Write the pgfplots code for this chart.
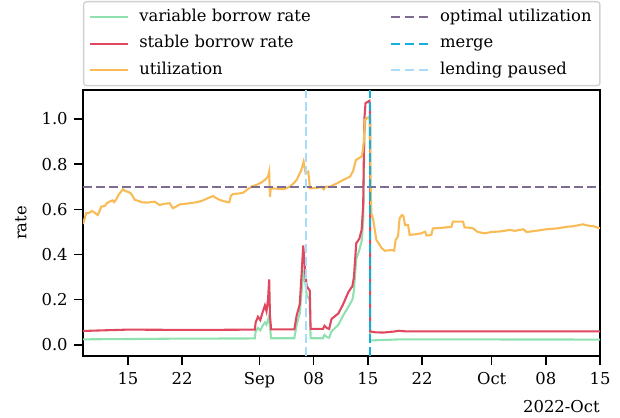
\documentclass[border=0pt]{standalone}
\usepackage{fontspec}
\setmainfont{DejaVu Serif}
\usepackage{pgfplots}
\pgfplotsset{compat=1.18}
\definecolor{cvar}{HTML}{8FE2B0}
\definecolor{cstab}{HTML}{E0485F}
\definecolor{cutil}{HTML}{F8BB55}
\definecolor{copt}{HTML}{7D6B92}
\definecolor{cmerge}{HTML}{15B0DA}
\definecolor{cpause}{HTML}{A8DCF8}

\pgfplotstableread{
d v
8.2 0.535
8.4 0.56
8.6 0.583
9.0 0.585
9.3 0.592
9.5 0.59
10.1 0.575
10.3 0.59
10.55 0.612
11.0 0.615
11.3 0.628
11.6 0.634
12.0 0.640
12.2 0.632
12.5 0.645
12.8 0.665
13.35 0.689
13.7 0.680
14.0 0.678
14.4 0.670
14.9 0.642
15.9 0.631
16.5 0.630
17.45 0.634
18.1 0.619
18.7 0.625
19.4 0.627
19.8 0.605
20.2 0.612
20.7 0.622
21.5 0.625
22.8 0.631
23.5 0.637
24.3 0.649
25.0 0.659
25.4 0.650
25.85 0.642
26.5 0.635
27.1 0.631
27.3 0.660
27.6 0.668
28.3 0.670
28.9 0.674
29.5 0.690
30.1 0.703
30.6 0.708
31.2 0.718
31.7 0.73
32.1 0.745
32.25 0.767
32.35 0.656
32.45 0.693
33.0 0.692
34.1 0.689
34.9 0.700
35.4 0.715
35.8 0.730
36.4 0.774
36.7 0.811
36.95 0.760
37.3 0.767
37.45 0.72
37.5 0.693
38.5 0.695
39.0 0.700
39.3 0.689
39.5 0.700
40.1 0.700
41.0 0.715
41.8 0.730
42.7 0.745
43.1 0.77
43.45 0.818
44.0 0.830
44.2 0.833
44.35 0.86
44.5 0.907
44.6 0.996
44.85 1.003
45.3 1.003
45.35 0.72
45.45 0.583
45.7 0.553
46.1 0.465
46.8 0.428
47.2 0.417
48.1 0.420
48.4 0.417
48.6 0.465
48.9 0.482
49.1 0.560
49.4 0.575
49.6 0.570
49.8 0.531
50.2 0.531
50.4 0.487
51.2 0.490
51.9 0.494
52.4 0.501
52.6 0.484
53.2 0.487
53.4 0.516
54.5 0.518
55.8 0.523
56.0 0.546
57.3 0.546
57.5 0.52
58.5 0.518
59.2 0.500
60.1 0.494
61.0 0.500
62.0 0.502
63.4 0.509
64.0 0.505
65.1 0.512
65.5 0.500
66.5 0.504
68.1 0.512
69.5 0.516
70.7 0.523
71.5 0.525
72.8 0.534
73.2 0.530
73.7 0.527
74.2 0.525
75.0 0.516
}\util

\pgfplotstableread{
d v
8.2 0.062
10 0.064
14 0.068
20 0.067
25 0.067
30.4 0.068
30.5 0.10
30.8 0.125
31.1 0.11
31.4 0.145
31.7 0.175
31.9 0.15
32.1 0.20
32.25 0.29
32.35 0.13
32.5 0.069
35.5 0.069
35.8 0.13
36.2 0.18
36.45 0.32
36.65 0.44
36.9 0.32
37.1 0.26
37.3 0.25
37.5 0.24
37.6 0.071
39.2 0.071
39.4 0.085
39.7 0.075
40.0 0.071
40.3 0.115
41.2 0.14
41.8 0.18
42.5 0.235
43.0 0.26
43.2 0.30
43.5 0.45
43.9 0.47
44.2 0.51
44.4 0.62
44.55 1.0
44.7 1.07
45.2 1.08
45.28 1.06
45.3 0.06
46 0.056
47 0.055
48.5 0.06
49 0.063
50 0.06
75 0.06
}\stab

\pgfplotstableread{
d v
8.2 0.025
20 0.028
30.4 0.029
30.5 0.06
30.8 0.075
31.1 0.065
31.4 0.085
31.7 0.10
31.9 0.09
32.1 0.11
32.25 0.13
32.35 0.08
32.5 0.03
35.5 0.03
35.8 0.09
36.2 0.14
36.45 0.24
36.65 0.32
36.9 0.28
37.1 0.22
37.5 0.20
37.6 0.03
39.2 0.03
39.4 0.045
39.7 0.035
40.0 0.032
40.3 0.06
41.2 0.09
41.8 0.13
42.5 0.17
43.0 0.20
43.2 0.24
43.5 0.38
43.9 0.42
44.2 0.46
44.4 0.55
44.55 0.93
44.7 1.0
45.2 1.01
45.28 1.0
45.3 0.02
46 0.021
48.5 0.024
49 0.025
75 0.024
}\var

\begin{document}
\begin{tikzpicture}[font=\fontsize{11.8}{14}\selectfont]
\path[use as bounding box] (-59.76pt,-43.92pt) rectangle (386.64pt,256.32pt);
\begin{axis}[
  name=ax,
  at={(0pt,0pt)}, anchor=south west,
  scale only axis, width=372.24pt, height=191.52pt,
  xmin=8.19, xmax=75, ymin=-0.0487, ymax=1.128,
  xtick={14,21,31,38,45,52,61,68,75},
  xticklabels={15,22,Sep,08,15,22,Oct,08,15},
  ytick={0,0.2,0.4,0.6,0.8,1.0},
  yticklabels={0.0,0.2,0.4,0.6,0.8,1.0},
  xtick pos=bottom, ytick pos=left,
  tick align=outside,
  major tick length=6.5pt,
  tick style={black, line width=1pt},
  axis line style={line width=1.1pt},
  xticklabel style={yshift=-2pt},
  yticklabel style={xshift=-1pt},
  ylabel={rate},
  ylabel style={at={(axis description cs:-0.12,0.5)}, anchor=center},
  legend columns=2,
  legend cell align=left,
  legend style={at={(0,1.3346)}, anchor=north west, draw=black!18, line width=1pt,
    rounded corners=2pt, fill=white, inner xsep=4pt, inner ysep=3pt,
    /tikz/every odd column/.append style={column sep=5.5pt},
    /tikz/every even column/.append style={column sep=55pt},
    nodes={inner sep=2pt, text height=9pt, text depth=3pt}, row sep=3.2pt},
  legend image code/.code={\draw[#1] (0pt,0pt) -- (27pt,0pt);},
]
\addplot[cvar, line width=1.5pt, forget plot] table[x=d,y=v] {\var};
\addplot[cstab, line width=1.5pt, forget plot] table[x=d,y=v] {\stab};
\addplot[cutil, line width=1.5pt, forget plot] table[x=d,y=v] {\util};
\addplot[copt, line width=1.6pt, dash pattern=on 6.5pt off 2.8pt, forget plot] coordinates {(8.19,0.7) (75,0.7)};
\addplot[cmerge, line width=1.6pt, dash pattern=on 6.5pt off 2.8pt, forget plot] coordinates {(45.27,-0.0487) (45.27,1.128)};
\addplot[cpause, line width=1.6pt, dash pattern=on 6.5pt off 2.8pt, forget plot] coordinates {(37.0,-0.0487) (37.0,1.128)};
\addlegendimage{cvar, line width=1.5pt}
\addlegendentry{variable borrow rate}
\addlegendimage{copt, line width=1.6pt, dash pattern=on 6.5pt off 3.5pt}
\addlegendentry{optimal utilization}
\addlegendimage{cstab, line width=1.5pt}
\addlegendentry{stable borrow rate}
\addlegendimage{cmerge, line width=1.6pt, dash pattern=on 6.5pt off 3.5pt}
\addlegendentry{merge}
\addlegendimage{cutil, line width=1.5pt}
\addlegendentry{utilization}
\addlegendimage{cpause, line width=1.6pt, dash pattern=on 6.5pt off 3.5pt}
\addlegendentry{lending paused}
\end{axis}
\node[anchor=east] at (375.5pt,-36.3pt) {2022-Oct};
\end{tikzpicture}
\end{document}
